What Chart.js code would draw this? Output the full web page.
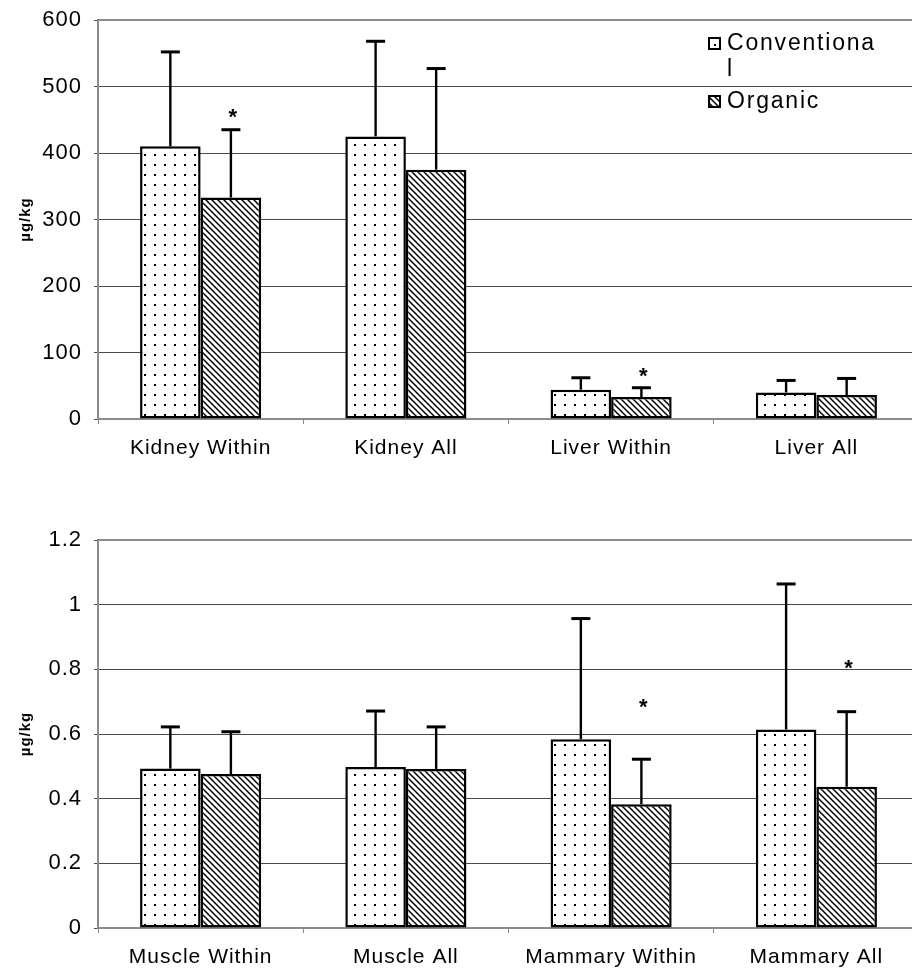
<!DOCTYPE html>
<html><head><meta charset="utf-8">
<script src="https://cdn.jsdelivr.net/npm/chart.js@4.4.1/dist/chart.umd.min.js"></script>
<style>
html,body{margin:0;padding:0;background:#fff;overflow:hidden;width:912px;height:970px;}
#wrap{position:relative;width:912px;height:970px;overflow:hidden;background:#fff;}
canvas{position:absolute;left:0;}
#c1{top:0;} #c2{top:520px;}
</style></head><body>
<div id="wrap"><canvas id="c1" width="925" height="480"></canvas><canvas id="c2" width="925" height="450"></canvas></div>
<script>
// ---- data ----
const seriesNames = ["Conventional", "Organic"];
const legendLines = [["Conventiona", "l"], ["Organic"]];
const yTitle = "µg/kg";

const topCategories = ["Kidney Within", "Kidney All", "Liver Within", "Liver All"];
const topConventional = [410, 425, 44, 40];
const topConventionalSD = [142, 143, 18, 18];
const topOrganic = [333, 375, 33, 36];
const topOrganicSD = [102, 152, 14, 25];
const topStars = [462, null, 73, null];
const topTickLabels = ["0", "100", "200", "300", "400", "500", "600"];

const bottomCategories = ["Muscle Within", "Muscle All", "Mammary Within", "Mammary All"];
const bottomConventional = [0.493, 0.498, 0.584, 0.614];
const bottomConventionalSD = [0.129, 0.173, 0.373, 0.450];
const bottomOrganic = [0.476, 0.492, 0.383, 0.437];
const bottomOrganicSD = [0.131, 0.130, 0.139, 0.232];
const bottomStars = [null, null, 0.70, 0.82];
const bottomTickLabels = ["0", "0.2", "0.4", "0.6", "0.8", "1", "1.2"];

// ---- styles ----
const FONT = "'Liberation Sans', Arial, Helvetica, sans-serif";

function dotPattern() {
  const c = document.createElement('canvas'); c.width = 10; c.height = 10;
  const g = c.getContext('2d');
  g.fillStyle = '#fff'; g.fillRect(0, 0, 10, 10);
  g.fillStyle = '#000'; g.fillRect(4, 4, 2, 2);
  return g.createPattern(c, 'repeat');
}
function hatchPattern() {
  const s = 6;
  const c = document.createElement('canvas'); c.width = s; c.height = s;
  const g = c.getContext('2d');
  g.fillStyle = '#fff'; g.fillRect(0, 0, s, s);
  g.strokeStyle = '#000'; g.lineWidth = 1.5;
  g.beginPath();
  g.moveTo(-1, -1); g.lineTo(s + 1, s + 1);
  g.moveTo(-1, s - 1); g.lineTo(1, s + 1);
  g.moveTo(s - 1, -1); g.lineTo(s + 1, 1);
  g.stroke();
  return g.createPattern(c, 'repeat');
}

function makeChart(id, cats, conv, convSD, org, orgSD, stars, yMax, step, tickLabels, showLegend, canvasH, plotBottom) {
  const ctx = document.getElementById(id).getContext('2d');
  const pats = [dotPattern(), hatchPattern()];
  const sds = [convSD, orgSD];
  const extras = {
    id: 'extras',
    beforeDraw(chart) { chart.ctx.letterSpacing = '1px'; },
    afterDatasetsDraw(chart) {
      const g = chart.ctx, ys = chart.scales.y, ca = chart.chartArea;
      g.save();
      g.letterSpacing = '0px';
      // top border
      g.strokeStyle = '#8c8c8c'; g.lineWidth = 2;
      g.beginPath(); g.moveTo(ca.left, ca.top); g.lineTo(ca.right, ca.top); g.stroke();
      // error bars
      g.strokeStyle = '#000';
      for (let d = 0; d < 2; d++) {
        const meta = chart.getDatasetMeta(d);
        const vals = chart.data.datasets[d].data;
        meta.data.forEach((bar, i) => {
          const yt = ys.getPixelForValue(vals[i] + sds[d][i]);
          const yb = ys.getPixelForValue(vals[i]);
          g.lineWidth = 2.4;
          g.beginPath(); g.moveTo(bar.x, yb); g.lineTo(bar.x, yt); g.stroke();
          g.lineWidth = 3;
          g.beginPath(); g.moveTo(bar.x - 9.5, yt); g.lineTo(bar.x + 9.5, yt); g.stroke();
        });
      }
      // stars
      const om = chart.getDatasetMeta(1);
      g.fillStyle = '#000'; g.font = 'bold 22px ' + FONT; g.textAlign = 'center'; g.textBaseline = 'alphabetic';
      stars.forEach((v, i) => {
        if (v === null) return;
        const y = ys.getPixelForValue(v);
        g.fillText('*', om.data[i].x + 2, y + 0.57 * 22);
      });
      // legend
      if (showLegend) {
        g.font = '23px ' + FONT; g.textAlign = 'left'; g.textBaseline = 'middle';
        g.letterSpacing = '1.8px';
        const rows = [[43, 69], [101]];
        legendLines.forEach((lines, k) => {
          const sy = rows[k][0];
          g.fillStyle = pats[k]; g.fillRect(709, sy - 5, 11, 11);
          g.strokeStyle = '#000'; g.lineWidth = 2; g.strokeRect(709, sy - 5, 11, 11);
          g.fillStyle = '#000';
          lines.forEach((t, j) => g.fillText(t, 727, rows[k][j] + 1));
        });
      }
      g.restore();
    }
  };
  return new Chart(ctx, {
    type: 'bar',
    data: {
      labels: cats,
      datasets: [
        { label: seriesNames[0], data: conv, backgroundColor: pats[0], borderColor: '#000', borderWidth: 2.5, borderSkipped: false },
        { label: seriesNames[1], data: org, backgroundColor: pats[1], borderColor: '#000', borderWidth: 2.5, borderSkipped: false }
      ]
    },
    options: {
      responsive: false, animation: false, devicePixelRatio: 1,
      layout: { padding: { top: 20, right: 6, left: 0, bottom: 0 } },
      datasets: { bar: { categoryPercentage: 0.59, barPercentage: 1 } },
      plugins: { legend: { display: false }, tooltip: { enabled: false } },
      scales: {
        x: {
          grid: { drawOnChartArea: false, tickLength: 5, color: '#888' },
          border: { color: '#8c8c8c', width: 2 },
          ticks: { color: '#000', font: { family: FONT, size: 21 }, padding: 12, maxRotation: 0, autoSkip: false },
          afterFit(s) { s.height = canvasH - plotBottom; }
        },
        y: {
          min: 0, max: yMax,
          grid: { color: '#4a4a4a', lineWidth: 1, tickLength: 4 },
          border: { color: '#8c8c8c', width: 2 },
          ticks: { stepSize: step, color: '#000', font: { family: FONT, size: 22 }, padding: 12,
            callback: (v, i) => tickLabels[i] },
          title: { display: true, text: yTitle, color: '#000', font: { family: FONT, size: 15, weight: 'bold' }, padding: { top: 17, bottom: 0 } },
          afterFit(s) { s.width = 98; s.paddingTop = 0; s.paddingBottom = 0; }
        }
      }
    },
    plugins: [extras]
  });
}

makeChart('c1', topCategories, topConventional, topConventionalSD, topOrganic, topOrganicSD, topStars,
  600, 100, topTickLabels, true, 480, 419);
makeChart('c2', bottomCategories, bottomConventional, bottomConventionalSD, bottomOrganic, bottomOrganicSD, bottomStars,
  1.2, 0.2, bottomTickLabels, false, 450, 408);
</script></body></html>
